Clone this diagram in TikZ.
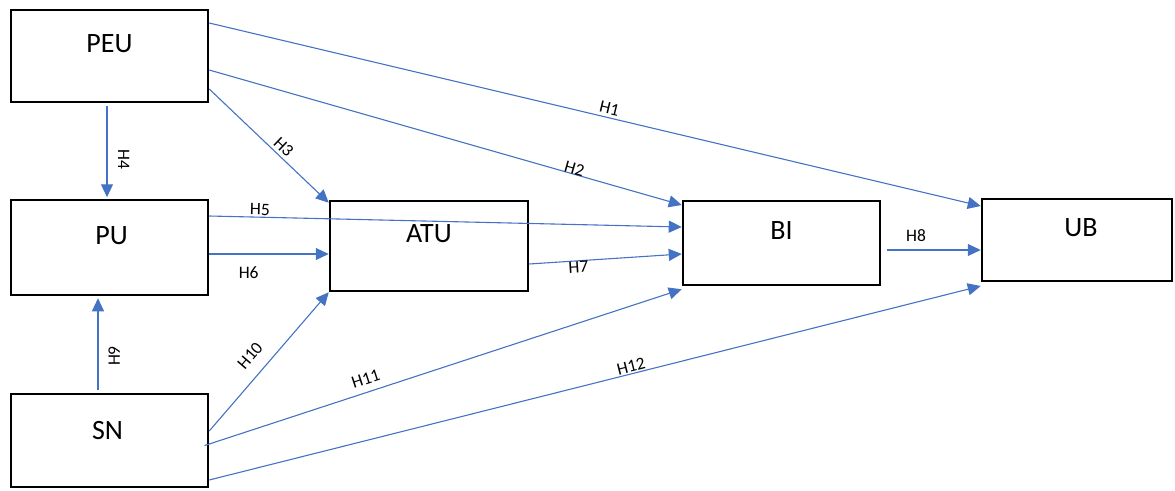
\documentclass[tikz,border=0pt]{standalone}
\usepackage{fontspec}
\setmainfont{Carlito}
\usetikzlibrary{arrows.meta}
\definecolor{edgeblue}{HTML}{4472C4}
\begin{document}
\begin{tikzpicture}[x=1pt,y=-1pt,
 box/.style={draw=black, line width=2.5pt, rectangle, inner sep=0pt},
 boxtext/.style={font=\fontsize{28}{30}\selectfont, yshift=12pt, inner sep=0pt},
 conn/.style={draw=edgeblue, line width=1.1pt, -{Triangle[length=13pt,width=12pt]}},
 lab/.style={font=\fontsize{17.5}{19}\selectfont, inner sep=0pt, sloped}]
\useasboundingbox (0,0) rectangle (1175,490);
\node[box, minimum width=197pt, minimum height=92pt, label={[boxtext]center:PEU}] (peu) at (109.5,56) {};
\node[box, minimum width=197pt, minimum height=95pt, label={[boxtext, xshift=2pt]center:PU}] (pu) at (109.5,247.5) {};
\node[box, minimum width=197pt, minimum height=93pt, label={[boxtext, yshift=-2pt, xshift=-2pt]center:SN}] (sn) at (109.5,440.5) {};
\node[box, minimum width=198pt, minimum height=90pt, label={[boxtext]center:ATU}] (atu) at (429,246) {};
\node[box, minimum width=197pt, minimum height=84pt, label={[boxtext]center:BI}] (bi) at (781.5,243) {};
\node[box, minimum width=190pt, minimum height=82pt, label={[boxtext, xshift=4pt]center:UB}] (ub) at (1077,240) {};

\draw[conn] (peu.east |- 0,23) -- node[lab, pos=0.516, above=3pt]{H1} (ub.west |- 0,206);
\draw[conn] (peu.east |- 0,70) -- node[lab, pos=0.77, above=-1pt]{H2} (bi.west |- 0,205);
\draw[conn] (peu.east |- 0,89) -- node[lab, pos=0.57, above=3pt]{H3} ([yshift=-3pt]atu.north west);
\draw[conn, shorten <=3pt, shorten >=1.5pt] (peu.south -| 107,0) -- node[lab, pos=0.59, above=10.5pt]{H4} (pu.north -| 107,0);
\draw[conn] (pu.east |- 0,216) -- node[lab, pos=0.107, above=1.5pt]{H5} (bi.west |- 0,227);
\draw[conn] (pu.east |- 0,254) -- node[lab, pos=0.33, below=12pt]{H6} (atu.west |- 0,254);
\draw[conn] (atu.east |- 0,264) -- node[lab, pos=0.32, below=0pt]{H7} (bi.west |- 0,254);
\draw[conn, shorten <=5.75pt] (bi.east |- 0,250) -- node[lab, pos=0.35, above=8pt]{H8} (ub.west |- 0,250);
\draw[conn, shorten <=2.75pt, shorten >=2pt] (sn.north -| 98,0) -- node[lab, pos=0.38, below=10pt]{H9} (pu.south -| 98,0);
\draw[conn] (sn.east |- 0,431) -- node[lab, pos=0.457, above=12pt]{H10} (atu.south west);
\draw[conn, shorten <=-5pt] (sn.east |- 0,444) -- node[lab, pos=0.34, above=7pt]{H11} ([yshift=-3pt]bi.south west);
\draw[conn] (sn.east |- 0,480) -- node[lab, pos=0.549, above=1pt]{H12} (ub.west |- 0,286);
\end{tikzpicture}
\end{document}
